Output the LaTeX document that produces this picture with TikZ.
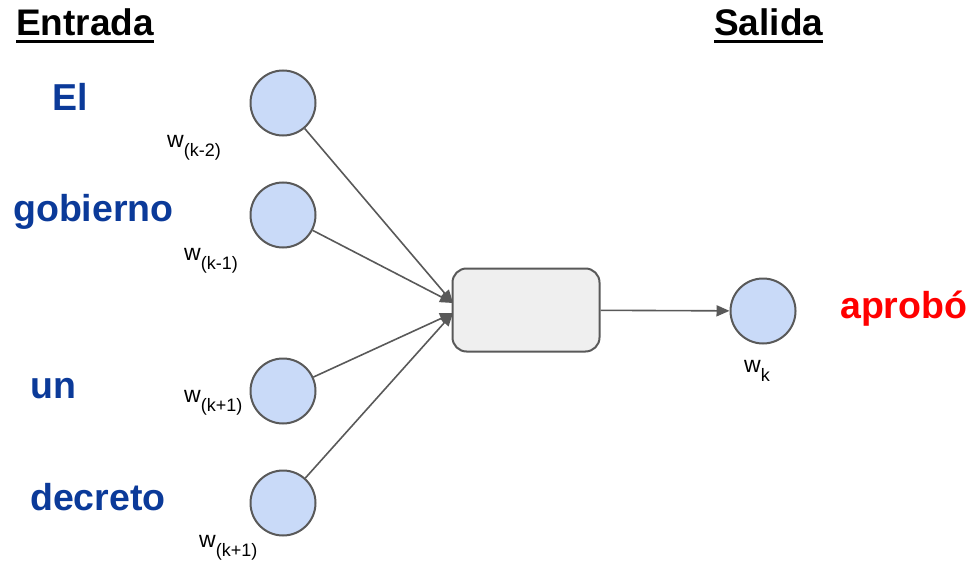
\documentclass[tikz,border=0pt]{standalone}
\usepackage{fontspec}
\setmainfont{Liberation Sans}
\usetikzlibrary{arrows.meta,positioning}
\definecolor{gris}{HTML}{595959}
\definecolor{azul}{HTML}{C9DAF8}
\definecolor{palabra}{HTML}{0B3A99}
\definecolor{caja}{HTML}{EFEFEF}

\tikzset{
  neurona/.style={circle,draw=gris,line width=2pt,fill=azul,minimum size=65pt,inner sep=0pt},
  flecha/.style={draw=gris,line width=1.6pt,-{Triangle[length=13pt,width=11pt]}},
  palabra/.style={text=palabra,font=\fontsize{37.5}{37.5}\selectfont\bfseries,inner sep=0pt,anchor=base west},
  titulo/.style={font=\fontsize{37}{37}\selectfont\bfseries,inner sep=0pt,anchor=base west},
  peso/.style={font=\fontsize{23}{23}\selectfont,inner sep=0pt,anchor=base west}
}
\newcommand{\pesow}[1]{w\raisebox{-9pt}{\fontsize{18}{18}\selectfont #1}}

\begin{document}
\begin{tikzpicture}[x=1pt,y=-1pt]
\useasboundingbox (0,0) rectangle (973,564);
% Titulos
\node[titulo] (entrada) at (16,36) {Entrada};
\node[titulo] (salida) at (714,36) {Salida};
\draw[line width=3pt] ([yshift=-6pt]entrada.base west) -- ([yshift=-6pt]entrada.base east);
\draw[line width=3pt] ([yshift=-6pt]salida.base west) -- ([yshift=-6pt]salida.base east);
% Palabras de entrada
\node[palabra] (el) at (52,111) {El};
\node[palabra] (gobierno) at (13,221) {gobierno};
\node[palabra] (un) at (30,398) {un};
\node[palabra] (decreto) at (30,510) {decreto};
\node[text=red,font=\fontsize{37.5}{37.5}\selectfont\bfseries,inner sep=0pt,anchor=base west] (aprobo) at (840,318) {aprobó};
% Neuronas
\node[neurona] (c1) at (283,103) {};
\node[neurona] (c2) at (283,215) {};
\node[neurona] (c3) at (283,391) {};
\node[neurona] (c4) at (283,503) {};
\node[neurona] (salidan) at (763,311) {};
\node[draw=gris,line width=2pt,fill=caja,rounded corners=14pt,minimum width=147pt,minimum height=83pt] (proy) at (526,310) {};
% Pesos
\node[peso] (w1) at (167,148) {\pesow{(k-2)}};
\node[peso] (w2) at (184,260) {\pesow{(k-1)}};
\node[peso] (w3) at (184,402) {\pesow{(k+1)}};
\node[peso] (w4) at (199,547) {\pesow{(k+1)}};
\node[peso] (wk) at (744,372) {\pesow{k}};
% Conexiones
\coordinate (e1) at (453,303);
\coordinate (e2) at (453,313);
\draw[flecha] (c1) -- (e1);
\draw[flecha] (c2) -- (e1);
\draw[flecha] (c3) -- (e2);
\draw[flecha] (c4) -- (e2);
\draw[flecha] (proy) -- (salidan);
\end{tikzpicture}
\end{document}
